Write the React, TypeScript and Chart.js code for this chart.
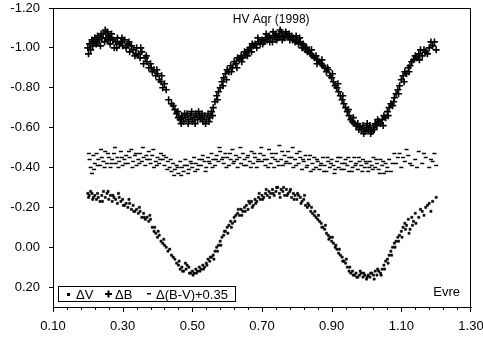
import React, { useEffect, useRef } from "react";
import { Chart, registerables } from "chart.js";
Chart.register(...registerables);

const xTickLabels = ["0.10", "0.30", "0.50", "0.70", "0.90", "1.10", "1.30"];
const yTickLabels = ["-1.20", "-1.00", "-0.80", "-0.60", "-0.40", "-0.20", "0.00", "0.20"];
const minorPerMajor = 5;
const chartTitle = "HV Aqr (1998)";
const noteText = "Evre";
const seriesNames = ["\u0394V", "\u0394B", "\u0394(B-V)+0.35"];

const deltaB: [number, number][] = [
  [0.200,-1.00],[0.202,-0.97],[0.205,-1.02],[0.208,-0.99],[0.212,-1.04],[0.216,-1.03],[0.220,-1.05],[0.224,-1.02],
  [0.228,-1.06],[0.232,-1.04],[0.236,-1.01],[0.240,-1.05],[0.244,-1.07],[0.248,-1.03],[0.252,-1.05],[0.256,-1.08],
  [0.260,-1.06],[0.264,-1.02],[0.268,-1.07],[0.272,-1.04],[0.276,-1.00],[0.280,-1.03],[0.285,-1.05],[0.290,-1.02],
  [0.295,-1.03],[0.300,-1.01],[0.305,-1.04],[0.310,-1.00],[0.315,-1.02],[0.320,-0.98],[0.325,-1.01],[0.330,-0.99],
  [0.335,-0.96],[0.340,-1.00],[0.345,-0.97],[0.350,-0.95],[0.355,-0.98],[0.360,-0.92],[0.365,-0.95],[0.370,-0.93],
  [0.375,-0.90],[0.380,-0.92],[0.385,-0.88],[0.390,-0.89],[0.395,-0.86],[0.400,-0.87],[0.405,-0.84],[0.410,-0.83],
  [0.415,-0.80],[0.420,-0.82],[0.425,-0.79],[0.440,-0.72],[0.445,-0.71],[0.450,-0.69],[0.455,-0.67],[0.460,-0.65],
  [0.465,-0.64],[0.470,-0.66],[0.475,-0.63],[0.480,-0.65],[0.485,-0.67],[0.490,-0.64],[0.495,-0.66],[0.500,-0.63],
  [0.505,-0.65],[0.510,-0.67],[0.515,-0.64],[0.520,-0.66],[0.525,-0.65],[0.530,-0.63],[0.535,-0.66],[0.540,-0.64],
  [0.545,-0.67],[0.550,-0.65],[0.555,-0.68],[0.560,-0.70],[0.565,-0.73],[0.570,-0.76],[0.575,-0.78],[0.580,-0.80],
  [0.585,-0.83],[0.590,-0.85],[0.595,-0.87],[0.600,-0.89],[0.605,-0.88],[0.610,-0.91],[0.615,-0.90],[0.620,-0.93],
  [0.625,-0.92],[0.630,-0.95],[0.635,-0.94],[0.640,-0.96],[0.645,-0.95],[0.650,-0.98],[0.655,-0.97],[0.660,-0.99],
  [0.665,-1.00],[0.670,-0.98],[0.675,-1.01],[0.680,-1.02],[0.685,-1.00],[0.690,-1.03],[0.695,-1.02],[0.700,-1.04],
  [0.705,-1.03],[0.710,-1.05],[0.715,-1.04],[0.720,-1.06],[0.725,-1.05],[0.730,-1.03],[0.735,-1.06],[0.740,-1.07],
  [0.745,-1.05],[0.750,-1.06],[0.755,-1.08],[0.760,-1.06],[0.765,-1.05],[0.770,-1.07],[0.775,-1.06],[0.780,-1.04],
  [0.785,-1.06],[0.790,-1.05],[0.795,-1.03],[0.800,-1.04],[0.805,-1.02],[0.810,-1.03],[0.815,-1.00],[0.820,-1.01],
  [0.825,-0.99],[0.830,-0.98],[0.835,-0.99],[0.840,-0.97],[0.845,-0.96],[0.850,-0.95],[0.855,-0.96],[0.860,-0.94],
  [0.865,-0.93],[0.870,-0.92],[0.875,-0.91],[0.880,-0.90],[0.885,-0.88],[0.890,-0.89],[0.895,-0.86],[0.900,-0.85],
  [0.905,-0.83],[0.910,-0.81],[0.915,-0.80],[0.920,-0.78],[0.925,-0.76],[0.930,-0.74],[0.935,-0.72],[0.940,-0.70],
  [0.945,-0.68],[0.950,-0.66],[0.955,-0.64],[0.960,-0.63],[0.965,-0.62],[0.970,-0.61],[0.975,-0.62],[0.980,-0.60],
  [0.985,-0.59],[0.990,-0.61],[0.995,-0.58],[1.000,-0.60],[1.005,-0.59],[1.010,-0.61],[1.015,-0.58],[1.020,-0.60],
  [1.025,-0.62],[1.030,-0.61],[1.035,-0.63],[1.040,-0.62],[1.045,-0.64],[1.050,-0.66],[1.055,-0.65],[1.060,-0.68],
  [1.065,-0.70],[1.070,-0.72],[1.075,-0.71],[1.080,-0.75],[1.085,-0.77],[1.090,-0.79],[1.095,-0.81],[1.100,-0.84],
  [1.105,-0.86],[1.110,-0.88],[1.115,-0.87],[1.120,-0.90],[1.125,-0.91],[1.130,-0.93],[1.140,-0.96],[1.145,-0.95],
  [1.150,-0.97],[1.155,-0.99],[1.160,-0.96],[1.170,-0.98],[1.180,-1.00],[1.190,-1.01],[1.195,-1.03],[1.200,-0.99],
  [0.214,-1.01],[0.226,-1.03],[0.238,-1.07],[0.250,-1.09],[0.258,-1.04],[0.266,-1.05],[0.283,-1.00],[0.298,-1.05],
  [0.318,-1.03],[0.338,-0.97],[0.352,-1.00],[0.368,-0.96],[0.382,-0.90],[0.398,-0.89],[0.412,-0.86],[0.432,-0.74],
  [0.458,-0.68],[0.468,-0.62],[0.478,-0.67],[0.488,-0.62],[0.498,-0.68],[0.508,-0.62],[0.518,-0.68],[0.528,-0.67],
  [0.538,-0.62],[0.548,-0.63],[0.558,-0.66],[0.572,-0.74],[0.588,-0.81],[0.598,-0.84],[0.612,-0.88],[0.628,-0.90],
  [0.642,-0.93],[0.658,-0.96],[0.672,-1.02],[0.688,-1.05],[0.702,-1.02],[0.712,-1.07],[0.722,-1.03],[0.732,-1.08],
  [0.742,-1.04],[0.752,-1.09],[0.758,-1.04],[0.768,-1.08],[0.778,-1.07],[0.788,-1.04],[0.798,-1.06],[0.808,-1.05],
  [0.818,-1.02],[0.828,-1.00],[0.842,-0.99],[0.858,-0.92],[0.872,-0.94],[0.888,-0.90],[0.902,-0.87],[0.918,-0.82],
  [0.932,-0.76],[0.948,-0.69],[0.962,-0.65],[0.978,-0.59],[0.992,-0.57],[1.002,-0.62],[1.012,-0.57],[1.022,-0.59],
  [1.032,-0.64],[1.048,-0.61],[1.062,-0.66],[1.078,-0.73],[1.092,-0.77],[1.108,-0.83],[1.122,-0.88],[1.135,-0.94],
  [1.152,-0.94],[1.165,-0.99],[1.175,-0.97],[1.185,-1.03]
];

const deltaV: [number, number][] = [
  [0.200,-0.27],[0.204,-0.26],[0.208,-0.28],[0.212,-0.27],[0.216,-0.25],[0.220,-0.26],[0.225,-0.24],[0.230,-0.25],
  [0.235,-0.23],[0.240,-0.26],[0.245,-0.28],[0.250,-0.25],[0.255,-0.27],[0.260,-0.24],[0.265,-0.26],[0.270,-0.23],
  [0.275,-0.25],[0.280,-0.24],[0.285,-0.22],[0.290,-0.25],[0.295,-0.23],[0.300,-0.24],[0.305,-0.21],[0.310,-0.22],
  [0.315,-0.20],[0.320,-0.22],[0.325,-0.19],[0.330,-0.21],[0.335,-0.18],[0.340,-0.19],[0.345,-0.17],[0.350,-0.18],
  [0.355,-0.15],[0.360,-0.17],[0.365,-0.14],[0.370,-0.15],[0.375,-0.13],[0.380,-0.14],[0.385,-0.10],[0.390,-0.08],
  [0.395,-0.07],[0.400,-0.05],[0.405,-0.06],[0.410,-0.03],[0.415,-0.02],[0.420,-0.01],[0.425,0.00],[0.430,0.02],
  [0.440,0.04],[0.450,0.06],[0.455,0.08],[0.460,0.09],[0.465,0.11],[0.470,0.10],[0.475,0.12],[0.480,0.08],
  [0.485,0.09],[0.490,0.10],[0.495,0.13],[0.500,0.12],[0.505,0.13],[0.510,0.11],[0.515,0.12],[0.520,0.10],
  [0.525,0.11],[0.530,0.09],[0.535,0.10],[0.540,0.08],[0.545,0.06],[0.550,0.07],[0.555,0.05],[0.560,0.04],
  [0.565,0.02],[0.570,0.00],[0.575,-0.01],[0.580,-0.03],[0.585,-0.05],[0.590,-0.06],[0.595,-0.08],[0.600,-0.10],
  [0.605,-0.11],[0.610,-0.13],[0.615,-0.12],[0.620,-0.15],[0.625,-0.16],[0.630,-0.17],[0.635,-0.16],[0.640,-0.19],
  [0.645,-0.18],[0.650,-0.20],[0.655,-0.21],[0.660,-0.19],[0.665,-0.22],[0.670,-0.23],[0.675,-0.21],[0.680,-0.24],
  [0.685,-0.23],[0.690,-0.25],[0.695,-0.24],[0.700,-0.26],[0.705,-0.25],[0.710,-0.27],[0.715,-0.26],[0.720,-0.28],
  [0.725,-0.27],[0.730,-0.29],[0.735,-0.26],[0.740,-0.28],[0.745,-0.30],[0.750,-0.27],[0.755,-0.29],[0.760,-0.28],
  [0.765,-0.26],[0.770,-0.29],[0.775,-0.27],[0.780,-0.28],[0.785,-0.25],[0.790,-0.27],[0.795,-0.26],[0.800,-0.24],
  [0.805,-0.26],[0.810,-0.25],[0.815,-0.23],[0.820,-0.24],[0.825,-0.21],[0.830,-0.20],[0.835,-0.21],[0.840,-0.18],
  [0.845,-0.17],[0.850,-0.16],[0.855,-0.15],[0.860,-0.14],[0.865,-0.13],[0.870,-0.12],[0.875,-0.10],[0.880,-0.09],
  [0.885,-0.07],[0.890,-0.06],[0.895,-0.05],[0.900,-0.03],[0.905,-0.02],[0.910,0.00],[0.915,0.01],[0.920,0.03],
  [0.925,0.04],[0.930,0.05],[0.935,0.07],[0.940,0.08],[0.945,0.10],[0.950,0.12],[0.955,0.13],[0.960,0.12],
  [0.965,0.14],[0.970,0.13],[0.975,0.15],[0.980,0.14],[0.985,0.13],[0.990,0.15],[0.995,0.14],[1.000,0.16],
  [1.005,0.14],[1.010,0.15],[1.015,0.13],[1.020,0.14],[1.025,0.12],[1.030,0.14],[1.035,0.12],[1.040,0.13],
  [1.045,0.11],[1.050,0.09],[1.055,0.07],[1.060,0.06],[1.065,0.04],[1.070,0.02],[1.075,0.00],[1.080,-0.02],
  [1.085,-0.03],[1.090,-0.05],[1.095,-0.06],[1.100,-0.08],[1.105,-0.10],[1.110,-0.12],[1.115,-0.11],[1.120,-0.14],
  [1.125,-0.09],[1.130,-0.15],[1.135,-0.13],[1.140,-0.17],[1.150,-0.15],[1.160,-0.18],[1.170,-0.20],[1.180,-0.22],
  [1.190,-0.23],[1.200,-0.25],
  [0.202,-0.25],[0.214,-0.24],[0.228,-0.27],[0.242,-0.23],[0.258,-0.28],[0.272,-0.26],[0.288,-0.27],[0.302,-0.21],
  [0.318,-0.24],[0.332,-0.18],[0.348,-0.20],[0.362,-0.15],[0.378,-0.16],[0.392,-0.10],[0.402,-0.08],[0.418,-0.04],
  [0.435,0.01],[0.445,0.05],[0.462,0.07],[0.472,0.12],[0.482,0.11],[0.492,0.13],[0.502,0.14],[0.512,0.13],
  [0.522,0.12],[0.532,0.11],[0.542,0.09],[0.552,0.05],[0.562,0.06],[0.572,0.02],[0.582,-0.01],[0.592,-0.08],
  [0.602,-0.07],[0.612,-0.10],[0.622,-0.13],[0.632,-0.19],[0.642,-0.16],[0.652,-0.18],[0.662,-0.23],[0.672,-0.20],
  [0.682,-0.22],[0.692,-0.27],[0.702,-0.24],[0.712,-0.29],[0.722,-0.25],[0.732,-0.27],[0.742,-0.30],[0.752,-0.25],
  [0.762,-0.30],[0.772,-0.26],[0.782,-0.29],[0.792,-0.24],[0.802,-0.27],[0.812,-0.22],[0.822,-0.26],[0.832,-0.22],
  [0.842,-0.20],[0.852,-0.18],[0.862,-0.16],[0.872,-0.10],[0.882,-0.11],[0.892,-0.04],[0.902,-0.05],[0.912,-0.01],
  [0.922,0.01],[0.932,0.07],[0.942,0.06],[0.952,0.10],[0.962,0.14],[0.972,0.15],[0.982,0.12],[0.992,0.13],
  [1.002,0.15],[1.012,0.13],[1.022,0.16],[1.032,0.11],[1.042,0.14],[1.052,0.11],[1.062,0.08],[1.072,0.04],
  [1.082,0.00],[1.092,-0.03],[1.102,-0.05],[1.112,-0.09],[1.122,-0.07],[1.132,-0.11],[1.142,-0.12],[1.155,-0.19],
  [1.165,-0.16],[1.175,-0.21],[1.185,-0.18]
];

const deltaBV: [number, number][] = [
  [0.205,-0.44],[0.208,-0.40],[0.212,-0.37],[0.216,-0.46],[0.220,-0.42],[0.225,-0.47],[0.230,-0.44],[0.235,-0.41],
  [0.240,-0.45],[0.245,-0.43],[0.250,-0.48],[0.255,-0.42],[0.260,-0.45],[0.265,-0.40],[0.270,-0.44],[0.275,-0.47],
  [0.280,-0.42],[0.285,-0.45],[0.290,-0.43],[0.295,-0.48],[0.300,-0.41],[0.305,-0.44],[0.310,-0.46],[0.315,-0.42],
  [0.320,-0.45],[0.325,-0.49],[0.330,-0.43],[0.335,-0.46],[0.340,-0.41],[0.345,-0.44],[0.350,-0.47],[0.355,-0.43],
  [0.360,-0.45],[0.365,-0.41],[0.370,-0.44],[0.375,-0.48],[0.380,-0.42],[0.385,-0.46],[0.390,-0.40],[0.395,-0.43],
  [0.400,-0.45],[0.405,-0.42],[0.410,-0.47],[0.415,-0.44],[0.420,-0.41],[0.425,-0.45],[0.430,-0.43],[0.435,-0.40],
  [0.440,-0.38],[0.445,-0.42],[0.450,-0.39],[0.455,-0.41],[0.460,-0.37],[0.465,-0.43],[0.470,-0.40],[0.475,-0.38],
  [0.480,-0.44],[0.485,-0.41],[0.490,-0.39],[0.495,-0.43],[0.500,-0.40],[0.505,-0.45],[0.510,-0.42],[0.515,-0.39],
  [0.520,-0.44],[0.525,-0.41],[0.530,-0.46],[0.535,-0.43],[0.540,-0.40],[0.545,-0.45],[0.550,-0.42],[0.555,-0.47],
  [0.560,-0.44],[0.565,-0.41],[0.570,-0.46],[0.575,-0.43],[0.580,-0.48],[0.585,-0.44],[0.590,-0.42],[0.595,-0.47],
  [0.600,-0.45],[0.605,-0.41],[0.610,-0.44],[0.615,-0.49],[0.620,-0.43],[0.625,-0.46],[0.630,-0.40],[0.635,-0.45],
  [0.640,-0.42],[0.645,-0.47],[0.650,-0.44],[0.655,-0.41],[0.660,-0.46],[0.665,-0.43],[0.670,-0.48],[0.675,-0.42],
  [0.680,-0.45],[0.685,-0.40],[0.690,-0.44],[0.695,-0.47],[0.700,-0.43],[0.705,-0.46],[0.710,-0.41],[0.715,-0.44],
  [0.720,-0.49],[0.725,-0.42],[0.730,-0.45],[0.735,-0.40],[0.740,-0.47],[0.745,-0.43],[0.750,-0.51],[0.755,-0.44],
  [0.760,-0.41],[0.765,-0.46],[0.770,-0.43],[0.775,-0.48],[0.780,-0.42],[0.785,-0.45],[0.790,-0.40],[0.795,-0.44],
  [0.800,-0.47],[0.805,-0.42],[0.810,-0.45],[0.815,-0.39],[0.820,-0.43],[0.825,-0.46],[0.830,-0.41],[0.835,-0.44],
  [0.840,-0.38],[0.845,-0.42],[0.850,-0.45],[0.855,-0.40],[0.860,-0.43],[0.865,-0.39],[0.870,-0.42],[0.875,-0.45],
  [0.880,-0.41],[0.885,-0.38],[0.890,-0.43],[0.895,-0.40],[0.900,-0.44],[0.905,-0.41],[0.910,-0.39],[0.915,-0.43],
  [0.920,-0.40],[0.925,-0.45],[0.930,-0.42],[0.935,-0.39],[0.940,-0.44],[0.945,-0.41],[0.950,-0.38],[0.955,-0.43],
  [0.960,-0.40],[0.965,-0.45],[0.970,-0.42],[0.975,-0.39],[0.980,-0.43],[0.985,-0.41],[0.990,-0.44],[0.995,-0.40],
  [1.000,-0.42],[1.005,-0.38],[1.010,-0.43],[1.015,-0.41],[1.020,-0.45],[1.025,-0.40],[1.030,-0.42],[1.035,-0.39],
  [1.040,-0.44],[1.045,-0.41],[1.050,-0.37],[1.055,-0.42],[1.060,-0.40],[1.065,-0.44],[1.070,-0.38],[1.080,-0.47],
  [1.085,-0.42],[1.090,-0.45],[1.100,-0.40],[1.110,-0.43],[1.120,-0.46],[1.130,-0.41],[1.140,-0.44],[1.150,-0.48],
  [1.160,-0.42],[1.170,-0.45],[1.180,-0.40],[1.190,-0.43],[1.195,-0.47],[1.200,-0.41],
  [0.203,-0.47],[0.218,-0.39],[0.228,-0.41],[0.238,-0.49],[0.248,-0.40],[0.258,-0.47],[0.268,-0.42],[0.278,-0.50],
  [0.288,-0.40],[0.298,-0.45],[0.308,-0.42],[0.318,-0.48],[0.328,-0.40],[0.338,-0.47],[0.348,-0.42],[0.358,-0.50],
  [0.368,-0.46],[0.378,-0.44],[0.388,-0.49],[0.398,-0.41],[0.408,-0.44],[0.418,-0.46],[0.428,-0.39],[0.438,-0.44],
  [0.448,-0.36],[0.458,-0.40],[0.468,-0.36],[0.478,-0.41],[0.488,-0.37],[0.498,-0.42],[0.508,-0.38],[0.518,-0.41],
  [0.528,-0.44],[0.538,-0.38],[0.548,-0.43],[0.558,-0.40],[0.568,-0.44],[0.578,-0.50],[0.588,-0.45],[0.598,-0.40],
  [0.608,-0.47],[0.618,-0.42],[0.628,-0.44],[0.638,-0.50],[0.648,-0.41],[0.658,-0.45],[0.668,-0.40],[0.678,-0.47],
  [0.688,-0.43],[0.698,-0.50],[0.708,-0.44],[0.718,-0.40],[0.728,-0.47],[0.738,-0.44],[0.748,-0.41],[0.758,-0.48],
  [0.768,-0.42],[0.778,-0.45],[0.788,-0.50],[0.798,-0.41],[0.808,-0.48],[0.818,-0.44],[0.828,-0.40],[0.838,-0.46],
  [0.848,-0.39],[0.858,-0.44],[0.868,-0.41],[0.878,-0.38],[0.888,-0.45],[0.898,-0.42],[0.908,-0.37],[0.918,-0.45],
  [0.928,-0.39],[0.938,-0.42],[0.948,-0.45],[0.958,-0.38],[0.968,-0.41],[0.978,-0.45],[0.988,-0.38],[0.998,-0.43],
  [1.008,-0.40],[1.018,-0.39],[1.028,-0.44],[1.038,-0.37],[1.048,-0.43],[1.058,-0.38],[1.075,-0.42],[1.095,-0.47],
  [1.105,-0.45],[1.115,-0.49],[1.125,-0.42],[1.145,-0.40],[1.165,-0.47],[1.185,-0.44]
];

const FONT = "'Liberation Sans', Arial, sans-serif";

const toPts = (a: [number, number][]) => a.map(([x, y]) => ({ x, y }));

const decorPlugin = {
  id: "decor",
  afterDraw(chart: any) {
    const { ctx, chartArea: a, scales } = chart;
    const xs = scales.x;
    ctx.save();
    ctx.strokeStyle = "#000";
    ctx.lineWidth = 1;
    ctx.strokeRect(a.left + 0.5, a.top + 0.5, a.right - a.left - 1, a.bottom - a.top);
    const majors = xTickLabels.map((l) => parseFloat(l));
    for (let i = 0; i < majors.length - 1; i++) {
      const step = (majors[i + 1] - majors[i]) / minorPerMajor;
      for (let k = 0; k < minorPerMajor; k++) {
        const px = Math.round(xs.getPixelForValue(majors[i] + step * k)) + 0.5;
        ctx.beginPath();
        ctx.moveTo(px, a.bottom);
        ctx.lineTo(px, a.bottom + (k === 0 ? 5 : 3));
        ctx.stroke();
      }
    }
    const lastPx = Math.round(xs.getPixelForValue(majors[majors.length - 1])) - 0.5;
    ctx.beginPath();
    ctx.moveTo(lastPx, a.bottom);
    ctx.lineTo(lastPx, a.bottom + 5);
    ctx.stroke();

    ctx.fillStyle = "#000";
    ctx.font = `12px ${FONT}`;
    ctx.textAlign = "center";
    ctx.textBaseline = "middle";
    ctx.fillText(chartTitle, a.left + (a.right - a.left) * 0.522, a.top + 12);
    ctx.font = `13px ${FONT}`;
    ctx.textAlign = "right";
    ctx.fillText(noteText, a.right - 11, a.bottom - 15);

    const bx = Math.round(a.left) + 5, by = Math.round(a.bottom) - 21, bw = 177, bh = 15;
    ctx.fillStyle = "#fff";
    ctx.fillRect(bx, by, bw, bh);
    ctx.strokeStyle = "#000";
    ctx.strokeRect(bx + 0.5, by + 0.5, bw, bh);
    const cy = by + 8;
    ctx.fillStyle = "#000";
    ctx.textAlign = "left";
    ctx.font = `13px ${FONT}`;
    ctx.fillRect(bx + 9, cy - 1, 3, 3);
    ctx.fillText(seriesNames[0], bx + 18, cy + 1);
    ctx.fillRect(bx + 47, cy - 1, 7, 2);
    ctx.fillRect(bx + 49.5, cy - 3.5, 2, 7);
    ctx.fillText(seriesNames[1], bx + 57, cy + 1);
    ctx.fillRect(bx + 89, cy - 1, 4, 1.5);
    ctx.fillText(seriesNames[2], bx + 98, cy + 1);
    ctx.restore();
  },
};

export default function App() {
  const ref = useRef<HTMLCanvasElement>(null);
  useEffect(() => {
    document.body.style.margin = "0";
    const chart = new Chart(ref.current!, {
      type: "scatter",
      data: {
        datasets: [
          {
            label: seriesNames[0],
            data: toPts(deltaV),
            pointStyle: "rect",
            radius: 1.5,
            backgroundColor: "#000",
            borderColor: "#000",
            borderWidth: 0.6,
          },
          {
            label: seriesNames[1],
            data: toPts(deltaB),
            pointStyle: "cross",
            radius: 3.5,
            borderColor: "#000",
            borderWidth: 1.6,
          },
          {
            label: seriesNames[2],
            data: toPts(deltaBV),
            pointStyle: "line",
            radius: 2,
            borderColor: "#000",
            borderWidth: 1.5,
          },
        ] as any,
      },
      options: {
        animation: false,
        responsive: false,
        events: [],
        layout: { padding: { top: 8, right: 12, left: 0, bottom: 0 } },
        plugins: { legend: { display: false }, tooltip: { enabled: false }, title: { display: false } },
        scales: {
          x: {
            type: "linear",
            min: parseFloat(xTickLabels[0]),
            max: parseFloat(xTickLabels[xTickLabels.length - 1]),
            afterBuildTicks: (s: any) => {
              s.ticks = xTickLabels.map((l) => ({ value: parseFloat(l) }));
            },
            afterFit: (s: any) => {
              s.height = 35;
              s.paddingLeft = 0;
              s.paddingRight = 0;
            },
            grid: { display: false },
            border: { display: true, color: "#000", width: 1 },
            ticks: {
              autoSkip: false,
              maxRotation: 0,
              padding: 4,
              color: "#000",
              font: { family: FONT, size: 13 },
              callback: (v: any) => Number(v).toFixed(2),
            },
          },
          y: {
            type: "linear",
            reverse: true,
            min: parseFloat(yTickLabels[0]),
            max: 0.3,
            afterBuildTicks: (s: any) => {
              s.ticks = yTickLabels.map((l) => ({ value: parseFloat(l) }));
            },
            afterFit: (s: any) => {
              s.width = 53;
              s.paddingTop = 0;
              s.paddingBottom = 0;
            },
            grid: { display: true, drawOnChartArea: false, drawTicks: true, tickLength: 4, color: "#000" },
            border: { display: true, color: "#000", width: 1 },
            ticks: {
              padding: 9,
              color: "#000",
              font: { family: FONT, size: 13 },
              callback: (v: any) => Number(v).toFixed(2),
            },
          },
        },
      },
      plugins: [decorPlugin],
    });
    return () => chart.destroy();
  }, []);
  return <canvas ref={ref} width={483} height={342} style={{ display: "block" }} />;
}
